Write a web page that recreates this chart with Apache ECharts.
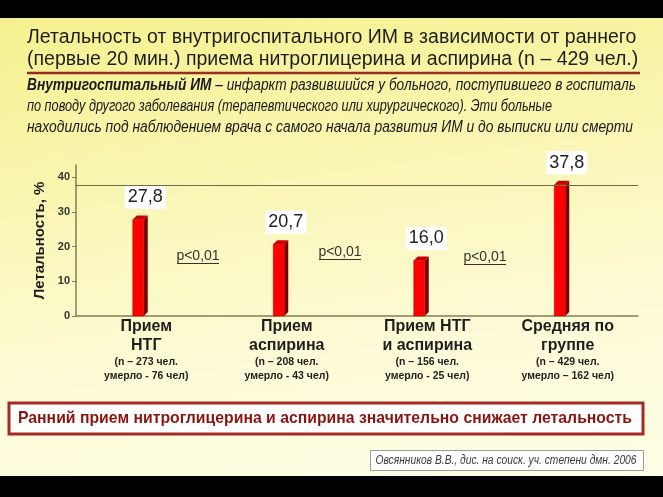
<!DOCTYPE html>
<html><head><meta charset="utf-8">
<script src="https://cdn.jsdelivr.net/npm/echarts@6/dist/echarts.min.js"></script>
<style>
html,body{margin:0;padding:0;background:#000;width:663px;height:497px;overflow:hidden}
#bg{position:absolute;left:0;top:18px;width:663px;height:458px;background:linear-gradient(172deg,#f5f18f 0%,#f9f6b4 35%,#fdfbd8 70%,#fffee6 100%)}
#c{position:absolute;left:0;top:0;width:663px;height:497px}
</style></head>
<body><div id="bg"></div><div id="c"></div>
<script>
// ---- data ----
var categories = ['Прием\nНТГ', 'Прием\nаспирина', 'Прием НТГ\nи аспирина', 'Средняя по\nгруппе'];
var mortality = [27.8, 20.7, 16.0, 37.8];
var nTotal = [273, 208, 156, 429];
var nDied = [76, 43, 25, 162];
var dieDash = ['-', '-', '-', '–'];
var yTicks = [0, 10, 20, 30, 40];
var pLabels = ['p<0,01', 'p<0,01', 'p<0,01'];
var groupAverage = mortality[3];

var FN = "'Liberation Sans', Arial, sans-serif";

var mctx = document.createElement('canvas').getContext('2d');
function textW(font, text){ mctx.font = font; return mctx.measureText(text).width; }

var chart = echarts.init(document.getElementById('c'), null, {renderer:'canvas'});

function catLabel(val, idx){
  var lines = val.split('\n');
  var s = lines.map(function(l){return '{a|' + l + '}';}).join('\n');
  s += '\n{b|(n – ' + nTotal[idx] + ' чел.}\n{b|умерло ' + dieDash[idx] + ' ' + nDied[idx] + ' чел)}';
  return s;
}

// subtitle (narrow italic emulated with horizontal scale)
var subFontB = 'bold italic 16px ' + FN, subFontI = 'italic 16px ' + FN;
var sub1b = 'Внутригоспитальный ИМ', sub1i = ' – инфаркт развившийся у больного, поступившего в госпиталь';
var sub2 = 'по поводу другого заболевания (терапевтического или хирургического). Эти больные';
var sub3 = 'находились под наблюдением врача с самого начала развития ИМ и до выписки или смерти';
var sub1Scale = 609 / (textW(subFontB, sub1b) + textW(subFontI, sub1i));
var sub2Scale = 525 / textW(subFontI, sub2);
var sub3Scale = 606 / textW(subFontI, sub3);

var conclText = 'Ранний прием нитроглицерина и аспирина значительно снижает летальность';
var conclFont = 'bold 17px ' + FN;
var conclScale = 614 / textW(conclFont, conclText);

var citeText = 'Овсянников В.В., дис. на соиск. уч. степени дмн. 2006';
var citeFont = 'italic 12px ' + FN;
var citeScale = 261 / textW(citeFont, citeText);

var graphics = [
  {type:'text', x:27, y:38, style:{text:'Летальность от внутригоспитального ИМ в зависимости от раннего', font:'19.5px ' + FN, fill:'#1e1e1e', verticalAlign:'middle'}},
  {type:'text', x:27, y:60, style:{text:'(первые 20 мин.) приема нитроглицерина и аспирина (n – 429 чел.)', font:'19.5px ' + FN, fill:'#1e1e1e', verticalAlign:'middle'}},
  {type:'line', shape:{x1:27, y1:73, x2:640, y2:73}, style:{stroke:'#9c2a1e', lineWidth:2.5}},
  {type:'text', x:27, y:86, scaleX:sub1Scale, style:{rich:{b:{font:subFontB, fill:'#1a1a1a'}, i:{font:subFontI, fill:'#1a1a1a'}}, text:'{b|' + sub1b + '}{i|' + sub1i + '}', verticalAlign:'middle'}},
  {type:'text', x:27, y:107, scaleX:sub2Scale, style:{text:sub2, font:subFontI, fill:'#1a1a1a', verticalAlign:'middle'}},
  {type:'text', x:27, y:128, scaleX:sub3Scale, style:{text:sub3, font:subFontI, fill:'#1a1a1a', verticalAlign:'middle'}},
  {type:'rect', shape:{x:9, y:403, width:634, height:31}, style:{fill:'#ffffff', stroke:'#a52a24', lineWidth:3}},
  {type:'text', x:325, y:418.5, scaleX:conclScale, style:{text:conclText, font:conclFont, fill:'#8a1410', align:'center', verticalAlign:'middle'}},
  {type:'rect', shape:{x:370.5, y:450.5, width:273, height:20}, style:{fill:'#ffffff', stroke:'#9a9a9a', lineWidth:1}},
  {type:'text', x:506, y:460.5, scaleX:citeScale, style:{text:citeText, font:citeFont, fill:'#3a3a3a', align:'center', verticalAlign:'middle'}}
];
var pPos = [[198, 256], [340, 252], [485, 257]];
pLabels.forEach(function(t, i){
  graphics.push({type:'text', x:pPos[i][0], y:pPos[i][1], style:{text:t, font:'14px ' + FN, fill:'#333', align:'center', verticalAlign:'middle'}});
  graphics.push({type:'line', shape:{x1:pPos[i][0]-21, y1:pPos[i][1]+7.5, x2:pPos[i][0]+21, y2:pPos[i][1]+7.5}, style:{stroke:'#333', lineWidth:1}});
});

var BAR_W = 11, DEPTH = 4, SHIFT = -8;

chart.setOption({
  animation:false,
  backgroundColor:'transparent',
  grid:{left:76, right:25, top:165, bottom:181},
  xAxis:{
    type:'category', data:categories,
    axisLine:{lineStyle:{color:'#837d55', width:1.5}},
    axisTick:{show:false},
    axisLabel:{
      margin:1, interval:0,
      formatter:catLabel,
      rich:{
        a:{fontWeight:'bold', fontSize:16, fontFamily:'Liberation Sans', color:'#1e1e1e', lineHeight:19, align:'center'},
        b:{fontWeight:'bold', fontSize:10.5, fontFamily:'Liberation Sans', color:'#222', lineHeight:14, align:'center'}
      }
    }
  },
  yAxis:{
    type:'value', min:0, max:43.5, interval:10,
    name:'Летальность, %', nameLocation:'middle', nameGap:28,
    nameTextStyle:{fontWeight:'bold', fontSize:15, fontFamily:'Liberation Sans', color:'#1e1e1e'},
    axisLine:{show:true, lineStyle:{color:'#837d55', width:1.5}},
    axisTick:{show:true, length:4, customValues:yTicks, lineStyle:{color:'#837d55'}},
    splitLine:{show:false},
    axisLabel:{margin:6, fontWeight:'bold', fontSize:11, fontFamily:'Liberation Sans', color:'#333', customValues:yTicks,
      formatter:function(v){return yTicks.indexOf(v) >= 0 ? String(v) : '';}}
  },
  graphic:graphics,
  series:[
    {type:'line', data:[], silent:true,
     markLine:{silent:true, symbol:'none', animation:false, label:{show:false},
       lineStyle:{color:'#6e6a45', width:1, type:'solid'}, data:[{yAxis:groupAverage}]}},
    {type:'custom',
     data:mortality.map(function(v, i){return [i, v];}),
     renderItem:function(params, api){
       var v = api.value(1);
       var base = api.coord([api.value(0), 0]);
       var top = api.coord([api.value(0), v]);
       var cx = base[0] + SHIFT;
       var x0 = cx - BAR_W/2, x1 = cx + BAR_W/2, ty = top[1], by = base[1];
       return {type:'group', children:[
         {type:'polygon', shape:{points:[[x1,ty],[x1+DEPTH,ty-DEPTH],[x1+DEPTH,by-DEPTH],[x1,by]]}, style:{fill:'#7a0000'}},
         {type:'polygon', shape:{points:[[x0,ty],[x0+DEPTH,ty-DEPTH],[x1+DEPTH,ty-DEPTH],[x1,ty]]}, style:{fill:'#cc0000'}},
         {type:'rect', shape:{x:x0, y:ty, width:BAR_W, height:by-ty}, style:{fill:'#ff0000', stroke:'#b00000', lineWidth:0.5}},
         {type:'text', x:base[0] - 1, y:ty - 22, style:{text:v.toFixed(1).replace('.', ','), font:'18px ' + FN, fill:'#222', backgroundColor:'#ffffff', padding:[3,3,2,3], align:'center', verticalAlign:'middle'}}
       ]};
     }
    }
  ]
});
</script>
</body></html>
